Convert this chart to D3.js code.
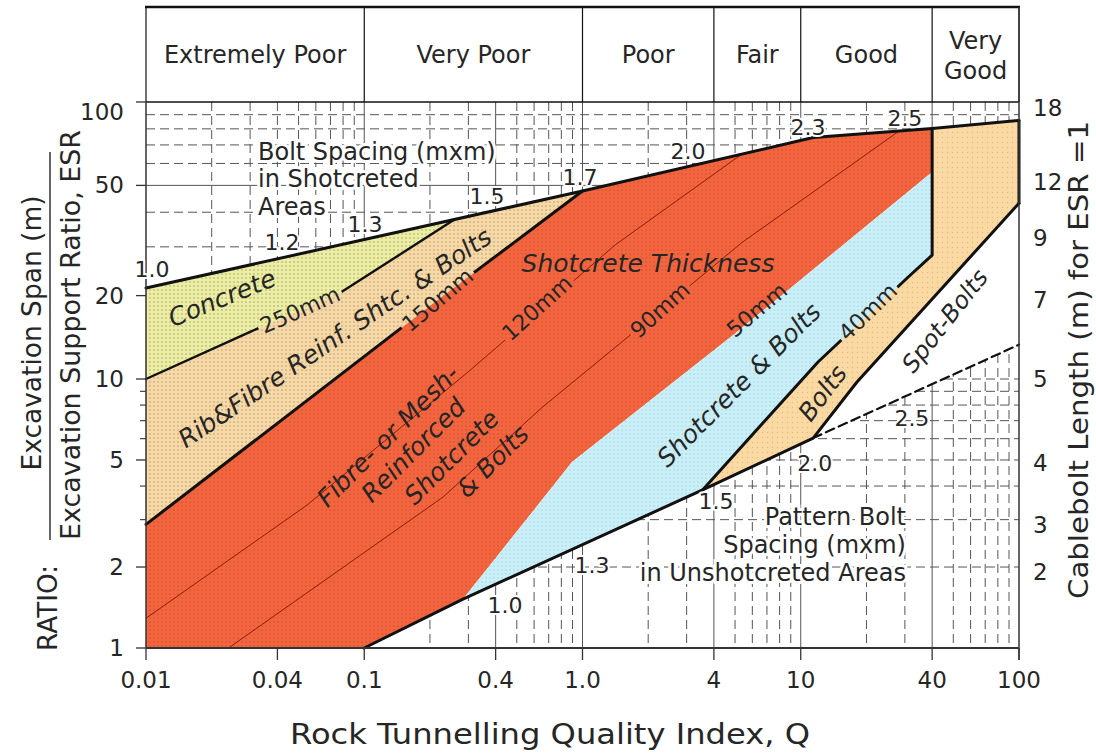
<!DOCTYPE html>
<html>
<head>
<meta charset="utf-8">
<title>Q-system support chart</title>
<script src="https://cdn.jsdelivr.net/npm/d3@7/dist/d3.min.js"></script>
<style>
  html, body { margin: 0; padding: 0; background: #fff; }
  svg { display: block; }
  text { font-family: "DejaVu Sans", "Liberation Sans", sans-serif; fill: #262626; }
</style>
</head>
<body>
<svg id="chart" width="1096" height="753"></svg>
<script>
// ---------- rock mass classes shown in the header ----------
const rockClasses  = ["Extremely Poor", "Very Poor", "Poor", "Fair", "Good", "Very Good"];
const classLimitsQ = [0.01, 0.1, 1, 4, 10, 40, 100];

// ---------- axis ticks ----------
const qTicks       = [0.01, 0.04, 0.1, 0.4, 1, 4, 10, 40, 100];
const qTickLabels  = ["0.01", "0.04", "0.1", "0.4", "1.0", "4", "10", "40", "100"];
const qSolidGrid   = [0.1, 0.4, 1, 4, 10, 40];
const spanTicks    = [1, 2, 5, 10, 20, 50, 100];
const spanMinor    = [3, 4, 6, 7, 8, 9];
const spanGrid     = [2, 3, 4, 5, 6, 7, 8, 9, 10, 20, 30, 40, 50, 60, 70, 80, 90];
const cableboltLabels = ["2", "3", "4", "5", "7", "9", "12", "18"];
const cableboltSpan   = [1.92, 2.87, 4.87, 10, 19.3, 32.3, 51.4, 95];

// ---------- support category limits (Q, span/ESR) ----------
const outerQ = [0.01, 1, 11.4, 40, 100];            // bolt spacing in shotcreted areas
const outerSpan = [21.3, 47.7, 74.4, 80.2, 85.8];
const lowerQ = [0.1, 0.2835, 3.55, 11.4];            // pattern bolt spacing, unshotcreted
const lowerSpan = [1, 1.52, 3.87, 6.03];
const concreteQ = [0.01, 0.03, 0.077, 0.26];         // 250 mm limit
const concreteSpan = [10, 14.8, 20.4, 37.7];
const ribQ = [0.01, 0.217, 1];                       // 150 mm limit
const ribSpan = [2.88, 19.3, 47.7];
const fibreQ = [0.2835, 0.895, 4.79, 40];            // 50 mm limit
const fibreSpan = [1.52, 4.91, 14.2, 55.9];
const plainQ = [3.55, 12.0, 31.0, 40];               // 40 mm limit
const plainSpan = [3.87, 11.52, 23.3, 28.0];
const boltQ = [11.4, 18.1, 100];                     // bolts / spot-bolts limit
const boltSpan = [6.03, 9.75, 43.1];
const spotQ = [11.4, 100];                           // 2.5 m spacing extension
const spotSpan = [6.03, 13.3];
const t120Q = [0.01, 0.0547, 0.299, 1.42, 5.38];     // 120 mm contour
const t120Span = [1.29, 3.40, 10.6, 30.6, 64.9];
const t90Q = [0.0239, 0.2295, 0.659, 1.60, 5.38, 28.2]; // 90 mm contour
const t90Span = [1, 3.64, 7.89, 14.1, 31.1, 78.5];

// ---------- bolt spacing values along the limits ----------
const shotSpacing = ["1.0", "1.2", "1.3", "1.5", "1.7", "2.0", "2.3", "2.5"];
const shotSpacingQ = [0.01065, 0.042, 0.1008, 0.365, 0.974, 3.04, 10.8, 30.0];
const shotSpacingSpan = [24.8, 31.2, 36.0, 45.4, 53.6, 66.0, 81.2, 87.5];
const patternSpacing = ["1.0", "1.3", "1.5", "2.0", "2.5"];
const patternSpacingQ = [0.441, 1.105, 4.09, 11.6, 32.3];
const patternSpacingSpan = [1.433, 2.018, 3.49, 4.87, 7.16];

// ---------- scales ----------
const W = 1096, H = 753;
const svg = d3.select("#chart");
const x = d3.scaleLog().domain([0.01, 100]).range([146, 1019]);
const y = d3.scaleLog().domain([1, 10, 100]).range([648, 379, 102]);
const line = d3.line().x(d => x(d[0])).y(d => y(d[1]));

const outer = d3.zip(outerQ, outerSpan);
const lower = d3.zip(lowerQ, lowerSpan);
const concrete = d3.zip(concreteQ, concreteSpan);
const rib = d3.zip(ribQ, ribSpan);
const fibre = d3.zip(fibreQ, fibreSpan);
const plain = d3.zip(plainQ, plainSpan);
const bolt = d3.zip(boltQ, boltSpan);
const spot = d3.zip(spotQ, spotSpan);
const rev = a => a.slice().reverse();

// ---------- dotted fill textures ----------
const defs = svg.append("defs");
function dots(id, base, dot, size, r) {
  const p = defs.append("pattern").attr("id", id)
    .attr("width", size).attr("height", size).attr("patternUnits", "userSpaceOnUse");
  p.append("rect").attr("width", size).attr("height", size).attr("fill", base);
  p.append("circle").attr("cx", size / 2).attr("cy", size / 2).attr("r", r).attr("fill", dot);
}
dots("pConcrete", "#eceea8", "#bfbf70", 4, 0.9);
dots("pRib", "#f6d9a9", "#d6ae78", 4, 0.9);
dots("pRed", "#f2653f", "#d24d2c", 4, 0.8);
dots("pBlue", "#c9eff8", "#a5cdd8", 4, 0.7);
dots("pBolt", "#fbd9a2", "#e3bb84", 5, 0.7);

// mask that opens gaps in the limit lines where thickness labels sit
const cut = defs.append("mask").attr("id", "cut").attr("maskUnits", "userSpaceOnUse")
  .attr("x", 0).attr("y", 0).attr("width", W).attr("height", H);
cut.append("rect").attr("width", W).attr("height", H).attr("fill", "#fff");

// ---------- grid ----------
const grid = svg.append("g");
const [gx0, gx1] = x.range();
const gyTop = y(100), gyBot = y(1);
x.ticks().filter(q => q > 0.01 && q < 100).forEach(q => {
  const solid = qSolidGrid.some(v => Math.abs(v - q) < 1e-9);
  grid.append("line")
    .attr("x1", x(q)).attr("x2", x(q)).attr("y1", gyTop).attr("y2", gyBot)
    .attr("stroke", "#555").attr("stroke-width", 1)
    .attr("stroke-dasharray", solid ? null : "9,5");
});
spanGrid.forEach(s => {
  grid.append("line")
    .attr("x1", gx0).attr("x2", gx1).attr("y1", y(s)).attr("y2", y(s))
    .attr("stroke", "#555").attr("stroke-width", 1)
    .attr("stroke-dasharray", s === 50 ? null : "9,5");
});

// ---------- support category areas ----------
const areas = svg.append("g");
function area(pts, fill) {
  areas.append("path").attr("d", line(pts) + "Z").attr("fill", fill).attr("stroke", "none");
}
area([outer[0], ...rev(concrete)], "url(#pConcrete)");
area([...concrete, outer[1], ...rev(rib)], "url(#pRib)");
area([...rib, outer[2], outer[3], ...rev(fibre), lower[0], [0.01, 1]], "url(#pRed)");
area([...fibre, ...rev(plain)], "url(#pBlue)");
area([...plain, outer[3], outer[4], ...rev(bolt)], "url(#pBolt)");
area([...bolt, ...rev(spot)], "#ffffff");

// thin thickness contours
const contours = svg.append("g").attr("mask", "url(#cut)");
[[t120Q, t120Span], [t90Q, t90Span]].forEach(([qs, ss]) => {
  contours.append("path").attr("d", line(d3.zip(qs, ss)))
    .attr("fill", "none").attr("stroke", "#8e1d0c").attr("stroke-width", 1);
});

// ---------- category limits ----------
const limits = svg.append("g").attr("fill", "none").attr("stroke", "#111")
  .attr("stroke-linejoin", "round").attr("stroke-linecap", "round").attr("mask", "url(#cut)");
limits.append("path").attr("d", line(outer)).attr("stroke-width", 3);
limits.append("path").attr("d", line([...lower, ...bolt.slice(1)])).attr("stroke-width", 3);
limits.append("path").attr("d", line([outer[4], bolt[bolt.length - 1]])).attr("stroke-width", 3);
limits.append("path").attr("d", line(concrete)).attr("stroke-width", 2.4);
limits.append("path").attr("d", line(rib)).attr("stroke-width", 3);
limits.append("path").attr("d", line([...plain, outer[3]])).attr("stroke-width", 3);
limits.append("path").attr("d", line(spot)).attr("stroke-width", 2.2).attr("stroke-dasharray", "9,5");

// ---------- header with rock mass classes ----------
const head = svg.append("g");
const headTop = 7;
head.append("line").attr("x1", x(0.01) - 1).attr("x2", x(100) + 1).attr("y1", headTop).attr("y2", headTop)
  .attr("stroke", "#111").attr("stroke-width", 2.5);
head.append("line").attr("x1", x(0.01)).attr("x2", x(100)).attr("y1", y(100)).attr("y2", y(100))
  .attr("stroke", "#111").attr("stroke-width", 1.6);
classLimitsQ.forEach(q => {
  head.append("line").attr("x1", x(q)).attr("x2", x(q)).attr("y1", headTop).attr("y2", y(100))
    .attr("stroke", "#111").attr("stroke-width", 1.2);
});
rockClasses.forEach((c, i) => {
  const cx = (x(classLimitsQ[i]) + x(classLimitsQ[i + 1])) / 2;
  const words = c === "Very Good" ? ["Very", "Good"] : [c];
  words.forEach((w, j) => {
    head.append("text").attr("x", cx)
      .attr("y", words.length === 1 ? 55 : 41 + j * 30)
      .attr("text-anchor", "middle").attr("dominant-baseline", "central")
      .attr("font-size", 24).text(w);
  });
});

// ---------- axes ----------
const ax = svg.append("g").attr("stroke", "#333");
ax.append("line").attr("x1", gx0).attr("x2", gx0).attr("y1", y(100)).attr("y2", gyBot).attr("stroke-width", 1.5);
ax.append("line").attr("x1", gx1).attr("x2", gx1).attr("y1", headTop).attr("y2", gyBot + 12).attr("stroke-width", 1.5);
ax.append("line").attr("x1", gx0).attr("x2", gx1).attr("y1", gyBot).attr("y2", gyBot).attr("stroke-width", 1.8);
qTicks.forEach(q => {
  ax.append("line").attr("x1", x(q)).attr("x2", x(q)).attr("y1", gyBot).attr("y2", gyBot + 12).attr("stroke-width", 1.3);
});
spanTicks.forEach(s => {
  ax.append("line").attr("x1", gx0 - 10).attr("x2", gx0).attr("y1", y(s)).attr("y2", y(s)).attr("stroke-width", 1.3);
});
spanMinor.forEach(s => {
  ax.append("line").attr("x1", gx0 - 6).attr("x2", gx0).attr("y1", y(s)).attr("y2", y(s)).attr("stroke-width", 1.1);
});

const tl = svg.append("g").attr("font-size", 23);
qTicks.forEach((q, i) => {
  tl.append("text").attr("x", x(q)).attr("y", 680).attr("text-anchor", "middle")
    .attr("dominant-baseline", "central").text(qTickLabels[i]);
});
spanTicks.forEach(s => {
  tl.append("text").attr("x", 124).attr("y", Math.max(y(s), 112)).attr("text-anchor", "end")
    .attr("dominant-baseline", "central").text(s);
});
cableboltLabels.forEach((c, i) => {
  tl.append("text").attr("x", 1033).attr("y", y(cableboltSpan[i]))
    .attr("dominant-baseline", "central").text(c);
});

// axis titles
svg.append("text").attr("x", 550).attr("y", 744).attr("text-anchor", "middle")
  .attr("font-size", 28)
  .attr("textLength", 520).attr("lengthAdjust", "spacingAndGlyphs")
  .text("Rock Tunnelling Quality Index, Q");
function vtext(cx, cy, size, len, str) {
  svg.append("text").attr("transform", `translate(${cx},${cy}) rotate(-90)`)
    .attr("text-anchor", "middle").attr("dominant-baseline", "central")
    .attr("font-size", size).attr("textLength", len).attr("lengthAdjust", "spacingAndGlyphs").text(str);
}
vtext(48, 608, 26, 86, "RATIO:");
vtext(32, 333, 26, 275, "Excavation Span (m)");
vtext(71, 335, 26, 410, "Excavation Support Ratio, ESR");
svg.append("line").attr("x1", 50).attr("x2", 50).attr("y1", 152).attr("y2", 540)
  .attr("stroke", "#333").attr("stroke-width", 1.5);
vtext(1078, 360, 27, 478, "Cablebolt Length (m) for ESR =1");

// ---------- annotations ----------
function label(str, q, s, opts) {
  const o = Object.assign({ angle: 0, size: 25, italic: false, halo: null, cut: false }, opts || {});
  const t = svg.append("text")
    .attr("transform", `translate(${x(q)},${y(s)}) rotate(${o.angle})`)
    .attr("text-anchor", "middle").attr("dominant-baseline", "central")
    .attr("font-size", o.size).attr("font-style", o.italic ? "italic" : null).text(str);
  if (o.halo) t.attr("stroke", o.halo).attr("stroke-width", o.haloWidth || 5)
    .attr("paint-order", "stroke").attr("stroke-linejoin", "round");
  if (o.cut) {
    const bb = t.node().getBBox();
    cut.append("rect").attr("transform", t.attr("transform"))
      .attr("x", bb.x - 3).attr("y", bb.y + 1).attr("width", bb.width + 6).attr("height", bb.height - 2)
      .attr("fill", "#000");
  }
  return t;
}
shotSpacing.forEach((v, i) => label(v, shotSpacingQ[i], shotSpacingSpan[i], { size: 22, halo: "#fff", haloWidth: 4 }));
patternSpacing.forEach((v, i) => label(v, patternSpacingQ[i], patternSpacingSpan[i], { size: 22, halo: "#fff", haloWidth: 4 }));

// explanatory blocks
function block(lines, q, s, anchor, gap) {
  lines.forEach((l, i) => {
    svg.append("text").attr("x", x(q)).attr("y", y(s) + i * gap)
      .attr("text-anchor", anchor).attr("dominant-baseline", "central").attr("font-size", 24)
      .attr("stroke", "#fff").attr("stroke-width", 6).attr("paint-order", "stroke").text(l);
  });
}
block(["Bolt Spacing (mxm)", "in Shotcreted", "Areas"], 0.0326, 66.0, "start", 27.5);
block(["Pattern Bolt", "Spacing (mxm)", "in Unshotcreted Areas"], 30.35, 3.07, "end", 28);

// category names and shotcrete thicknesses
label("Concrete", 0.0223, 19.6, { angle: -22, italic: true });
label("250mm", 0.0508, 17.75, { angle: -24, size: 22, cut: true });
label("Rib&Fibre Reinf. Shtc. & Bolts", 0.0734, 14.06, { angle: -34, italic: true });
label("150mm", 0.217, 19.3, { angle: -40, size: 22, cut: true });
label("Shotcrete  Thickness", 1.995, 26.2, { italic: true });
label("120mm", 0.619, 18.04, { angle: -42, size: 22, cut: true });
label("90mm", 2.265, 17.75, { angle: -42, size: 22, cut: true });
label("50mm", 6.30, 17.75, { angle: -40, size: 22 });
label("Shotcrete & Bolts", 5.21, 9.5, { angle: -45, italic: true });
label("40mm", 20.3, 17.46, { angle: -44, size: 22, cut: true });
label("Bolts", 12.6, 8.87, { angle: -53, italic: true });
label("Spot-Bolts", 45.8, 16.2, { angle: -52, italic: true, size: 24 });

// fibre / mesh reinforced shotcrete block
const fib = svg.append("g").attr("transform", `translate(${x(0.1285)},${y(6.14)}) rotate(-45)`);
[["Fibre- or Mesh-", 0, 0], ["Reinforced", 8, 28], ["Shotcrete", 30, 60], ["& Bolts", 56, 92]]
  .forEach(([str, dx, dy]) => {
    fib.append("text").attr("x", dx).attr("y", dy).attr("text-anchor", "middle")
      .attr("dominant-baseline", "central").attr("font-size", 25).attr("font-style", "italic").text(str);
  });
</script>
</body>
</html>
